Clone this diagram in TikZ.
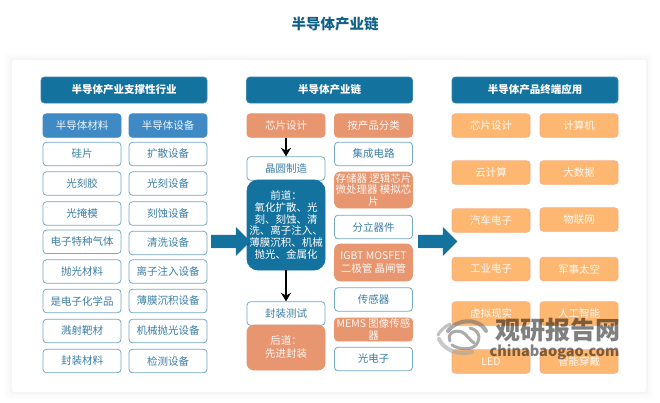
\documentclass[tikz,border=0pt]{standalone}
\usepackage{fontspec}
\setmainfont{Noto Sans CJK SC}
\usetikzlibrary{arrows.meta,shapes.arrows}
\definecolor{hdr}{HTML}{14729F}
\definecolor{sub}{HTML}{3F8AC4}
\definecolor{edge}{HTML}{74A9C3}
\definecolor{txt}{HTML}{3B7EA6}
\definecolor{org}{HTML}{E7966F}
\definecolor{lorg}{HTML}{FDB771}
\definecolor{lorge}{HTML}{F6AE80}
\tikzset{
  x=1pt,y=-1pt,
  base/.style={rounded corners=3.5pt,align=center,inner sep=0pt,minimum width=78pt,minimum height=23.5pt,line width=.8pt,font=\fontsize{10.5}{12}\selectfont},
  hdrbox/.style={base,fill=hdr,draw=hdr!85!white,text=white,minimum width=166pt,minimum height=26pt,font=\fontsize{10.5}{12}\selectfont\bfseries},
  subbox/.style={base,fill=sub,draw=sub,text=white!92!sub},
  wbox/.style={base,fill=white,draw=edge,text=txt},
  obox/.style={base,fill=org,draw=org,text=white!92!org},
  lbox/.style={base,fill=lorg,draw=lorge,text=white!92!lorg},
  flow/.style={line width=2pt,black,-{Stealth[length=8.5pt,width=10pt]}},
  bigarrow/.style={single arrow,fill=hdr,inner sep=0pt,minimum height=39pt,single arrow head extend=8pt,single arrow head indent=0pt},
  bigshade/.style={bigarrow,fill=black,opacity=.18}
}
\begin{document}
\begin{tikzpicture}
\useasboundingbox (0,0) rectangle (660,402);
\fill[white] (0,0) rectangle (660,402);
% panel with soft shadow
\foreach \d/\o in {7/.007,5/.009,3/.012,1.5/.015}{
  \fill[black,opacity=\o,rounded corners=3pt] (12-\d,60-\d) rectangle (646+\d,392+\d);}
\fill[white,rounded corners=2pt] (12,60) rectangle (646,392);
\node[font=\fontsize{14.5}{16}\selectfont\bfseries,text=hdr!85!black] (title) at (335,24) {半导体产业链};
% left column
\node[hdrbox] (lh) at (124,90) {半导体产业支撑性行业};
\node[subbox] (m0) at (82,125.5) {半导体材料};
\node[subbox] (e0) at (168,125.5) {半导体设备};
\node[wbox] (m1) at (82,154) {硅片};
\node[wbox] (m2) at (82,183.5) {光刻胶};
\node[wbox] (m3) at (82,213.5) {光掩模};
\node[wbox] (m4) at (82,241.8) {电子特种气体};
\node[wbox] (m5) at (82,271.5) {抛光材料};
\node[wbox] (m6) at (82,301) {是电子化学品};
\node[wbox] (m7) at (82,331) {溅射靶材};
\node[wbox] (m8) at (82,361) {封装材料};
\node[wbox] (e1) at (168,154) {扩散设备};
\node[wbox] (e2) at (168,183.5) {光刻设备};
\node[wbox] (e3) at (168,213.5) {刻蚀设备};
\node[wbox] (e4) at (168,243) {清洗设备};
\node[wbox] (e5) at (168,271.5) {离子注入设备};
\node[wbox] (e6) at (168,301) {薄膜沉积设备};
\node[wbox] (e7) at (168,331) {机械抛光设备};
\node[wbox] (e8) at (168,361) {检测设备};
% centre column
\node[hdrbox] (ch) at (329.5,90) {半导体产业链};
\node[obox] (c1) at (286,125.5) {芯片设计};
\node[wbox] (c2) at (286,168.5) {晶圆制造};
\node[base,fill=hdr,draw=hdr,text=white,rounded corners=11pt,minimum height=90pt,font=\fontsize{10.5}{11.9}\selectfont] (c3) at (286,225) {前道：\\氧化扩散、光\\刻、刻蚀、清\\洗、离子注入、\\薄膜沉积、机械\\抛光、金属化};
\node[wbox] (c4) at (286,313.5) {封装测试};
\node[obox,rounded corners=7pt,minimum height=45pt,font=\fontsize{10.5}{13}\selectfont] (c5) at (286,347.5) {后道：\\先进封装};
\node[obox] (p0) at (373.5,125.5) {按产品分类};
\node[wbox] (p1) at (373.5,154) {集成电路};
\node[obox,rounded corners=6pt,minimum height=36pt,font=\fontsize{10.5}{11.5}\selectfont] (p2) at (373.5,190) {存储器 逻辑芯片\\微处理器 模拟芯\\片};
\node[wbox] (p3) at (373.5,227) {分立器件};
\node[obox,rounded corners=6pt,minimum height=37pt,font=\fontsize{10.5}{12.5}\selectfont] (p4) at (373.5,262.5) {IGBT MOSFET\\二极管 晶闸管};
\node[wbox] (p5) at (373.5,299.5) {传感器};
\node[obox,minimum height=23pt,font=\fontsize{10.5}{11.5}\selectfont] (p6) at (373.5,329.5) {MEMS 图像传感\\器};
\node[wbox] (p7) at (373.5,359) {光电子};
% right column
\node[hdrbox] (rh) at (535,90) {半导体产品终端应用};
\node[lbox] (a1) at (491,125.5) {芯片设计};
\node[lbox] (b1) at (579,125.5) {计算机};
\node[lbox] (a2) at (491,172.5) {云计算};
\node[lbox] (b2) at (579,172.5) {大数据};
\node[lbox] (a3) at (491,220.5) {汽车电子};
\node[lbox] (b3) at (579,219.5) {物联网};
\node[lbox] (a4) at (491,269) {工业电子};
\node[lbox] (b4) at (579,269) {军事太空};
\node[lbox] (a5) at (491,313.5) {虚拟现实};
\node[lbox] (b5) at (579,313.5) {人工智能};
\node[lbox] (a6) at (491,361.5) {LED};
\node[lbox] (b6) at (579,361.5) {智能穿戴};
% connectors
\draw[flow] (c1) -- (c2);
\draw[flow] (c3) -- (c4);
\node[bigshade] (bs1) at (228,242) {\rule{0pt}{12.5pt}};
\node[bigshade] (bs2) at (435,242) {\rule{0pt}{12.5pt}};
\node[bigarrow] (ba1) at (227.5,241.3) {\rule{0pt}{12.5pt}};
\node[bigarrow] (ba2) at (434.5,241.3) {\rule{0pt}{12.5pt}};
% watermark
\begin{scope}[line cap=round]
\draw[black!55,line width=4pt,opacity=.6] (448,331) .. controls (455,320) and (478,316) .. (486,331);
\draw[black!35,line width=3pt,opacity=.7] (438,335) .. controls (440,331) and (444,327) .. (450,324);
\draw[black!55,line width=3pt,opacity=.6] (450,341) .. controls (446,332) and (458,328) .. (465,334) .. controls (468,337) and (470,340) .. (474,343);
\draw[black!55,line width=3pt,opacity=.6] (470,328) .. controls (478,330) and (482,337) .. (476,345) .. controls (470,351) and (458,349) .. (452,345);
\draw[black!35,line width=4pt,opacity=.6] (439,339) .. controls (443,349) and (458,356) .. (472,352);
\end{scope}
\node[font=\fontsize{25}{27}\selectfont\bfseries,text=black,opacity=.5,inner sep=0pt] (wm1) at (557.5,330) {观研报告网};
\node[font=\fontsize{14.5}{16}\selectfont\bfseries,text=black,opacity=.5,inner sep=0pt] (wm2) at (554.5,352.5) {chinabaogao.com};
\end{tikzpicture}
\end{document}
